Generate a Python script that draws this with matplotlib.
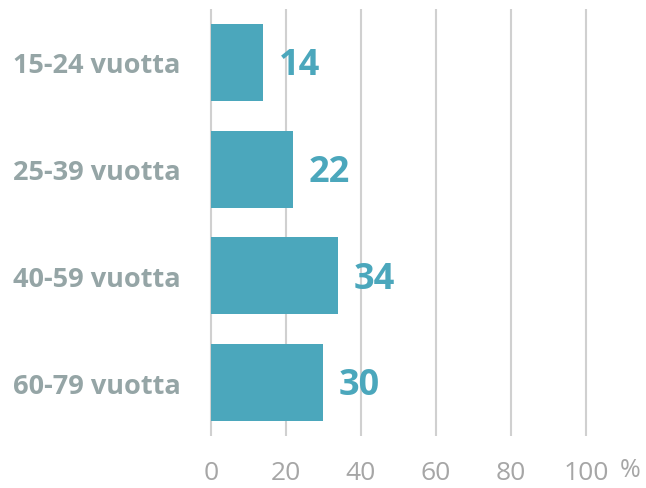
import matplotlib.pyplot as plt

# data
categories = ['15-24 vuotta', '25-39 vuotta', '40-59 vuotta', '60-79 vuotta']
values = [14, 22, 34, 30]
ticks = [0, 20, 40, 60, 80, 100]

bar_color = '#4BA7BC'
label_color = '#95A5A6'
tick_color = '#A6A6A6'
grid_color = '#D0D0D0'

plt.rcParams['font.family'] = ['Open Sans', 'DejaVu Sans']

fig = plt.figure(figsize=(6.46, 4.89), dpi=100)
ax = fig.add_axes([0.3266, 0.1063, 0.5805, 0.8733])

ypos = list(range(len(categories)))
ax.vlines(ticks, -0.5, 3.5, colors=grid_color, linewidth=1.5, zorder=0, clip_on=False)
ax.barh(ypos, values, height=0.72, color=bar_color, zorder=2)

for y, v in zip(ypos, values):
    ax.annotate(str(v), xy=(v, y), xytext=(11, -2), textcoords='offset points',
                ha='left', va='center', fontsize=26, fontweight='bold', color=bar_color)

ax.set_xlim(0, 100)
ax.set_ylim(3.5, -0.5)
ax.set_yticks(ypos)
ax.set_yticklabels(categories, fontsize=19.5, fontweight='bold', color=label_color)
ax.set_xticks(ticks)
ax.set_xticklabels([str(t) for t in ticks], fontsize=19, color=tick_color)
ax.tick_params(axis='y', length=0, pad=22)
ax.tick_params(axis='x', length=0, pad=17)
for s in ax.spines.values():
    s.set_visible(False)

fig.text(0.975, 0.012, '%', fontsize=18, color=tick_color, ha='center', va='bottom')

fig.savefig('out.png', dpi=100)
